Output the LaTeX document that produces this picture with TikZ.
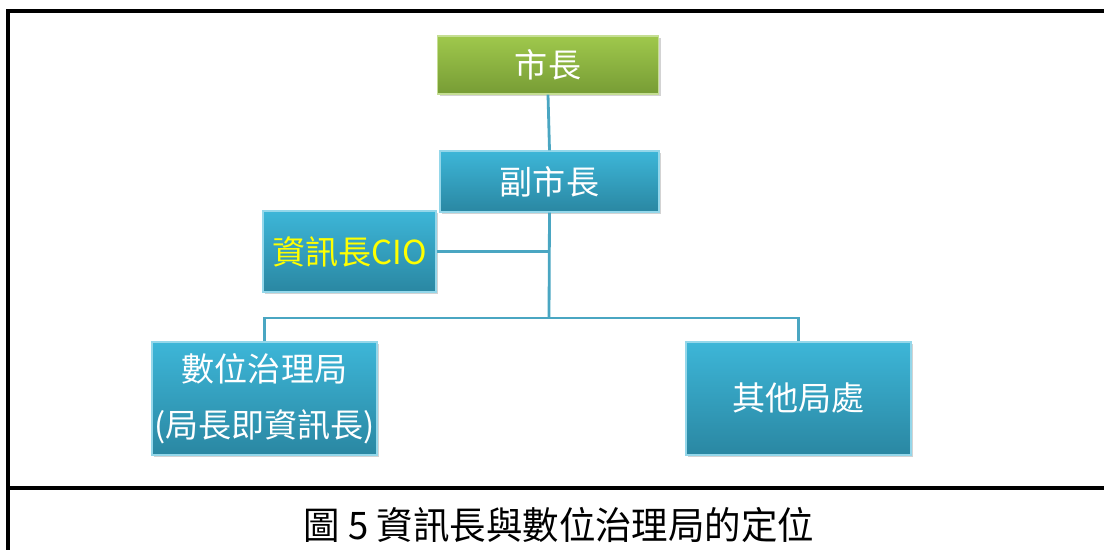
\documentclass[tikz,border=0pt]{standalone}
\usepackage{fontspec}
\usepackage{xcolor}
\usepackage{tikz}
\newfontfamily\cjk{Noto Sans CJK TC}
\usetikzlibrary{shapes,arrows,positioning,calc,shadows}

\definecolor{boxtop}{HTML}{3DB6D8}
\definecolor{boxbot}{HTML}{2A87A2}
\definecolor{greentop}{HTML}{9FC84C}
\definecolor{greenbot}{HTML}{779C35}
\definecolor{wire}{HTML}{4AA6C2}
\definecolor{cioyellow}{HTML}{FFFF00}

\tikzset{
    orgbox/.style={rectangle, draw=boxtop!55!white, line width=0.8pt,
        top color=boxtop, bottom color=boxbot, text=white, align=center,
        font=\cjk\fontsize{23.5}{40}\selectfont, inner sep=0pt,
        drop shadow={shadow xshift=1.5pt, shadow yshift=-1.5pt, opacity=0.35}},
    mayorbox/.style={orgbox, draw=greentop!60!white,
        top color=greentop, bottom color=greenbot},
    wireline/.style={draw=wire, line width=2pt},
    frameline/.style={draw=black, line width=2.2pt}
}

\begin{document}
\begin{tikzpicture}[x=0.025cm, y=-0.025cm]
    \useasboundingbox (0,0) rectangle (1104,550);

    % frame round the chart and the caption
    \draw[frameline] (8,570) -- (8,11) -- (1120,11);
    \draw[frameline] (8,488) -- (1120,488);

    % boxes
    \node[mayorbox, minimum width=5.525cm, minimum height=1.45cm] (M) at (548,65) {市長};
    \node[orgbox, minimum width=5.475cm, minimum height=1.525cm] (VM) at (549.5,181.5) {副市長};
    \node[orgbox, minimum width=4.325cm, minimum height=2.025cm, text=cioyellow] (CIO) at (349.5,251.5) {資訊長CIO};
    \node[orgbox, minimum width=5.625cm, minimum height=2.825cm] (DG) at (264.5,398.5) {數位治理局\\(局長即資訊長)};
    \node[orgbox, minimum width=5.625cm, minimum height=2.825cm] (OT) at (798.5,398.5) {其他局處};

    % connectors
    \coordinate (J) at (549,318);
    \draw[wireline] (M.south) -- (VM.north);
    \draw[wireline] (VM.south) -- (J);
    \draw[wireline] (CIO.east) -- (CIO.east -| J);
    \draw[wireline] (DG.north) |- (J) -| (OT.north);

    % caption
    \node[font=\cjk\fontsize{27}{32}\selectfont, xscale=0.96] (CAP) at (559,525) {圖 5 資訊長與數位治理局的定位};
\end{tikzpicture}
\end{document}
